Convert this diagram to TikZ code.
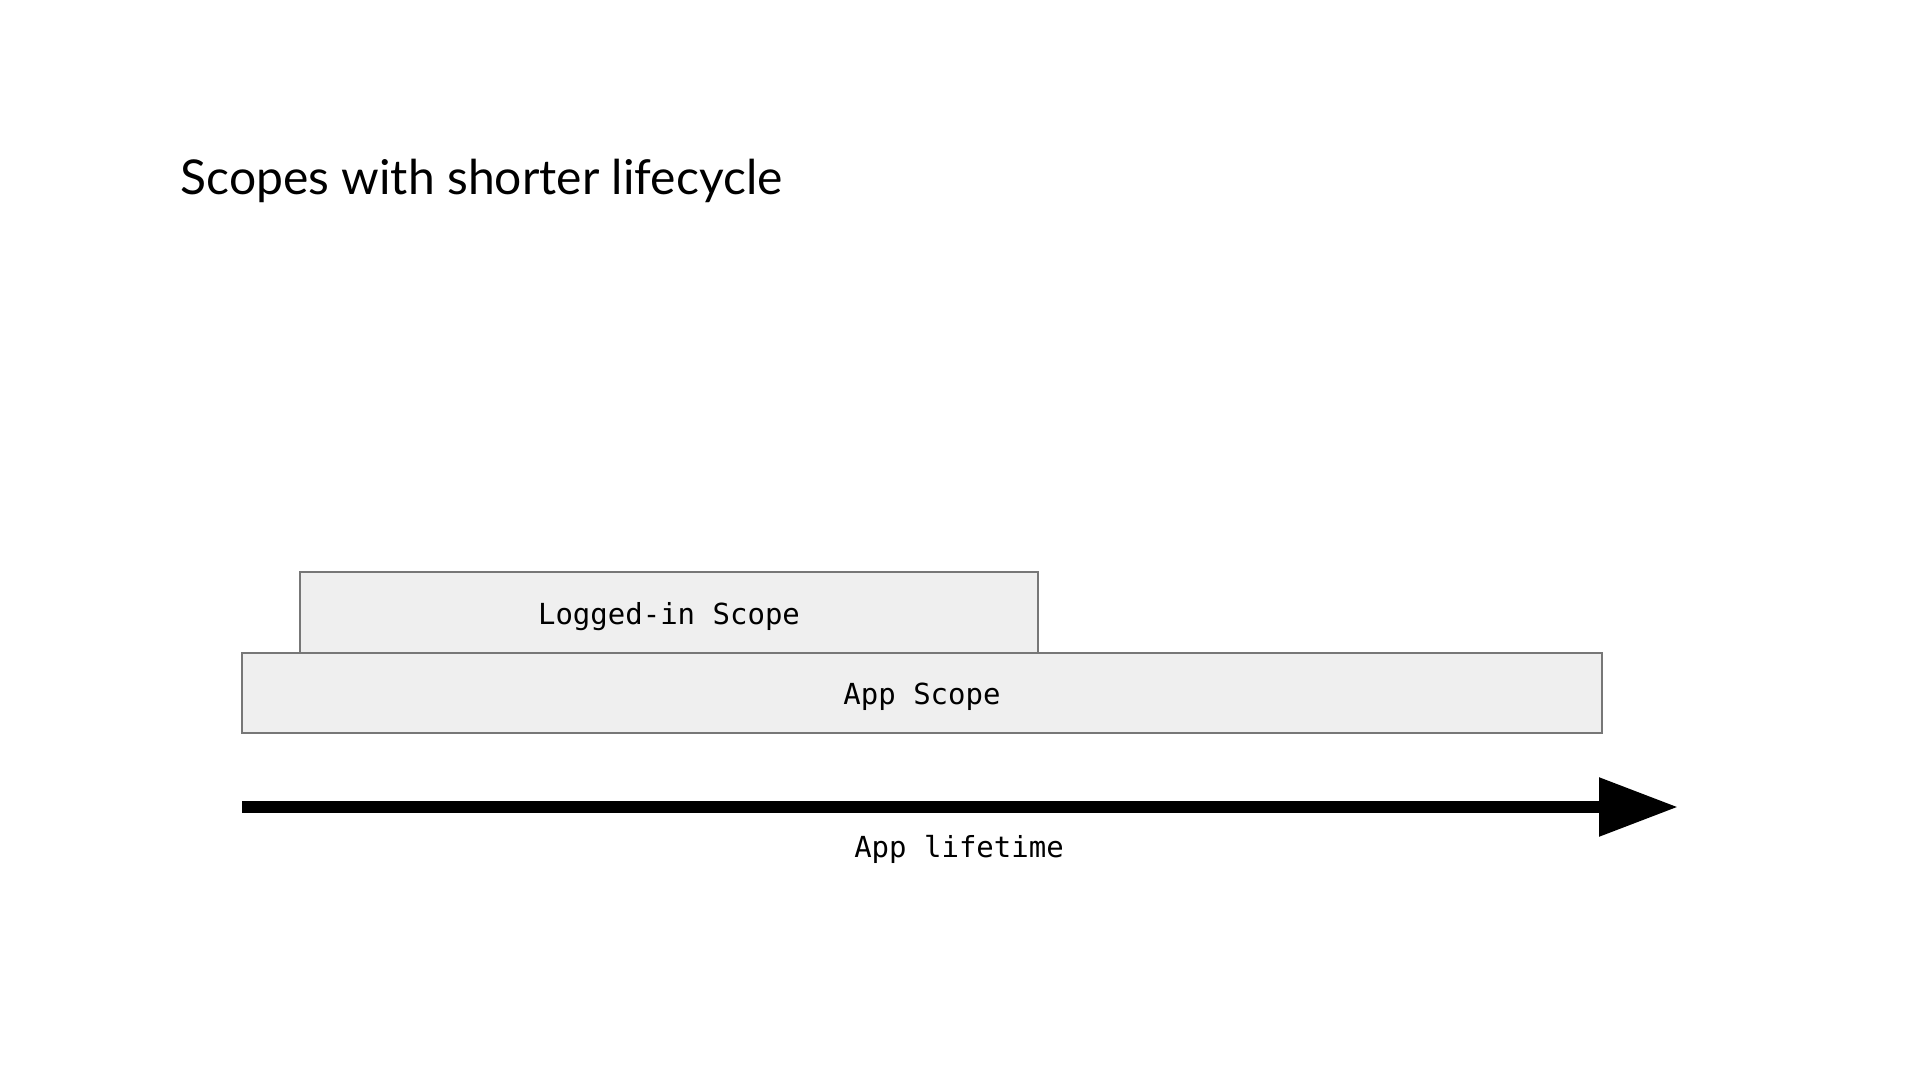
\documentclass[tikz,border=0pt]{standalone}
\usepackage{fontspec}
\setmainfont{Lato}
\setmonofont{DejaVu Sans Mono}
\usetikzlibrary{arrows.meta}

\tikzset{every picture/.style={line width=0.75pt}}
\tikzset{
  scopebox/.style={draw={rgb, 255:red, 119; green, 119; blue, 119}, fill={rgb, 255:red, 239; green, 239; blue, 239}, line width=1pt, inner sep=0pt, text height=15pt, text depth=3.5pt, font=\ttfamily\fontsize{14.5}{17}\selectfont},
  titletext/.style={anchor=base west, inner sep=0pt, font=\fontsize{24}{29}\selectfont},
  labeltext/.style={inner sep=0pt, font=\ttfamily\fontsize{14.5}{17}\selectfont}
}

\begin{document}
\begin{tikzpicture}[x=0.5pt,y=0.5pt,yscale=-1,xscale=1]
\useasboundingbox (0,0) rectangle (1920,1080);

% Text Node
\node [titletext] (title) at (180,195) {Scopes with shorter lifecycle};

%Shape: Rectangle
\node [scopebox, minimum width=680pt, minimum height=40pt] (appscope) at (922,693) {App Scope};
%Shape: Rectangle
\node [scopebox, minimum width=369pt, minimum height=40.5pt] (loggedin) at (669,612.5) {Logged-in Scope};

%Straight Lines
\coordinate (lifestart) at (242,807);
\coordinate (lifeend) at (1678,807);
\draw [line width=6pt, -{Triangle[length=39.5pt, width=28pt]}] (lifestart) -- (lifeend);

% Text Node
\node [labeltext] (lifetime) at (959,849.5) {App lifetime};

\end{tikzpicture}
\end{document}
